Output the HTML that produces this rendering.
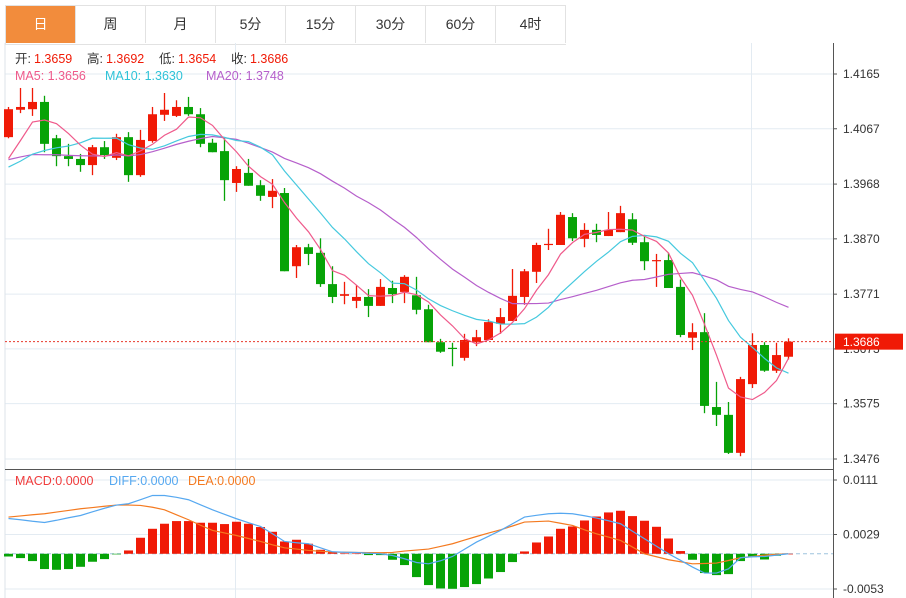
<!DOCTYPE html>
<html><head><meta charset="utf-8">
<style>
body{margin:0;background:#fff;font-family:"Liberation Sans","Noto Sans CJK SC",sans-serif;}
#wrap{position:relative;width:906px;height:598px;overflow:hidden;background:#fff}
.tabs{position:absolute;left:5px;top:5px;height:38px;display:flex;border:1px solid #e2e2e2;border-right:none}
.tab{width:69px;height:37px;line-height:37px;text-align:center;font-size:14px;color:#333;border-right:1px solid #e2e2e2;background:#fff}
.tab.on{background:#f28c3c;color:#fff}
</style></head><body>
<div id="wrap">
<div class="tabs">
<div class="tab on">日</div>
<div class="tab">周</div>
<div class="tab">月</div>
<div class="tab">5分</div>
<div class="tab">15分</div>
<div class="tab">30分</div>
<div class="tab">60分</div>
<div class="tab">4时</div>
</div>
<svg id="chart" width="906" height="598" style="position:absolute;left:0;top:0"></svg>
</div>
<script>
const opens=[1.4052,1.4101,1.4102,1.4115,1.4050,1.4018,1.4013,1.4002,1.4034,1.4015,1.4052,1.3984,1.4045,1.4092,1.4090,1.4106,1.4093,1.4042,1.4027,1.3970,1.3988,1.3966,1.3945,1.3952,1.3821,1.3855,1.3845,1.3789,1.3768,1.3759,1.3766,1.3750,1.3782,1.3775,1.3769,1.3744,1.3685,1.3675,1.3657,1.3685,1.3689,1.3718,1.3723,1.3766,1.3811,1.3859,1.3859,1.3909,1.3870,1.3886,1.3875,1.3882,1.3905,1.3864,1.3830,1.3832,1.3784,1.3693,1.3703,1.3569,1.3555,1.3487,1.3610,1.3680,1.3634,1.3659];
const highs=[1.4106,1.4140,1.4140,1.4126,1.4056,1.4040,1.4022,1.4038,1.4045,1.4058,1.4061,1.4065,1.4106,1.4131,1.4118,1.4124,1.4104,1.4049,1.4050,1.4000,1.4013,1.3975,1.3977,1.3961,1.3859,1.3861,1.3871,1.3821,1.3793,1.3787,1.3780,1.3798,1.3795,1.3805,1.3802,1.3752,1.3691,1.3684,1.3700,1.3707,1.3726,1.3746,1.3816,1.3816,1.3863,1.3888,1.3918,1.3916,1.3898,1.3897,1.3918,1.3929,1.3916,1.3877,1.3843,1.3845,1.3797,1.3719,1.3737,1.3614,1.3578,1.3623,1.3701,1.3685,1.3684,1.3692];
const lows=[1.4050,1.4095,1.4090,1.4025,1.4000,1.4000,1.3990,1.3984,1.4013,1.4011,1.3972,1.3981,1.4042,1.4081,1.4088,1.4090,1.4034,1.4025,1.3938,1.3954,1.3965,1.3938,1.3925,1.3812,1.3800,1.3823,1.3784,1.3755,1.3753,1.3746,1.3730,1.3750,1.3755,1.3755,1.3735,1.3685,1.3666,1.3642,1.3652,1.3678,1.3689,1.3700,1.3723,1.3752,1.3791,1.3850,1.3859,1.3866,1.3855,1.3864,1.3875,1.3882,1.3859,1.3814,1.3784,1.3782,1.3694,1.3671,1.3558,1.3535,1.3485,1.3481,1.3603,1.3632,1.3630,1.3654];
const closes=[1.4102,1.4106,1.4115,1.4040,1.4018,1.4013,1.4002,1.4034,1.4020,1.4052,1.3984,1.4047,1.4093,1.4101,1.4106,1.4093,1.4040,1.4025,1.3975,1.3995,1.3965,1.3947,1.3956,1.3812,1.3855,1.3843,1.3789,1.3766,1.3771,1.3766,1.3750,1.3784,1.3771,1.3802,1.3743,1.3685,1.3668,1.3673,1.3689,1.3694,1.3721,1.3730,1.3768,1.3812,1.3859,1.3861,1.3913,1.3871,1.3886,1.3877,1.3886,1.3916,1.3863,1.3830,1.3832,1.3782,1.3698,1.3703,1.3571,1.3555,1.3487,1.3619,1.3680,1.3634,1.3662,1.3686];
const priorCloses=[1.4010,1.4030,1.4045,1.4020,1.4035,1.4015,1.4040,1.4025,1.4010,1.4020,1.4000,1.3990,1.3975,1.3970,1.3981,1.3945,1.3950,1.4022,1.4050];
const macdHist=[-0.00041,-0.00065,-0.00110,-0.00230,-0.00241,-0.00230,-0.00196,-0.00120,-0.00080,-0.00005,0.00050,0.00241,0.00376,0.00452,0.00492,0.00492,0.00467,0.00467,0.00447,0.00482,0.00452,0.00402,0.00331,0.00185,0.00211,0.00151,0.00060,0.00026,0.00005,0.00005,-0.00020,-0.00020,-0.00090,-0.00170,-0.00351,-0.00471,-0.00522,-0.00527,-0.00501,-0.00456,-0.00372,-0.00275,-0.00125,0.00035,0.00170,0.00260,0.00376,0.00411,0.00501,0.00561,0.00622,0.00647,0.00567,0.00497,0.00406,0.00230,0.00041,-0.00090,-0.00290,-0.00321,-0.00306,-0.00110,-0.00050,-0.00086,-0.00030,0];
const diffLine=[0.00531,0.00512,0.00489,0.00471,0.00504,0.00542,0.00576,0.00632,0.00685,0.00733,0.00753,0.00813,0.00877,0.00877,0.00850,0.00813,0.00737,0.00662,0.00594,0.00527,0.00467,0.00411,0.00301,0.00185,0.00166,0.00151,0.00090,0.00030,0.00023,0.00020,0.00008,0,-0.00026,-0.00075,-0.00131,-0.00151,-0.00105,-0.00041,0.00068,0.00176,0.00263,0.00351,0.00452,0.00552,0.00579,0.00602,0.00610,0.00602,0.00572,0.00537,0.00497,0.00452,0.00339,0.00226,0.00113,0,-0.00098,-0.00200,-0.00290,-0.00290,-0.00226,-0.00060,-0.00045,-0.00041,-0.00020,0];
const deaLine=[0.00552,0.00569,0.00587,0.00602,0.00628,0.00652,0.00677,0.00695,0.00715,0.00733,0.00733,0.00727,0.00700,0.00662,0.00587,0.00512,0.00429,0.00351,0.00313,0.00275,0.00230,0.00185,0.00135,0.00090,0.00071,0.00050,0.00038,0.00026,0.00023,0.00020,0.00017,0.00015,0.00020,0.00041,0.00056,0.00071,0.00110,0.00151,0.00206,0.00260,0.00312,0.00361,0.00418,0.00477,0.00485,0.00492,0.00459,0.00426,0.00361,0.00301,0.00251,0.00200,0.00101,0,-0.00045,-0.00090,-0.00120,-0.00151,-0.00146,-0.00140,-0.00101,-0.00060,-0.00041,-0.00020,-0.00009,0];
const priceTicks=[1.4165,1.4067,1.3968,1.3870,1.3771,1.3673,1.3575,1.3476];
const macdTicks=[0.0111,0.0029,-0.0053];
const lastPrice=1.3686;

const svg=document.getElementById('chart');
const NS='http://www.w3.org/2000/svg';
const UP='#f01a06',DN='#07a307';
function el(tag,attrs,parent){const e=document.createElementNS(NS,tag);for(const k in attrs)e.setAttribute(k,attrs[k]);(parent||svg).appendChild(e);return e;}
const PL=5,PR=833;
function xAt(i){return 2.5+(i+0.5)*12;}
function yP(v){return 74+(1.4165-v)*385/0.0689;}
function yM(v){return 480+(0.0111-v)*109/0.0164;}

// grid
const grid=el('g',{});


priceTicks.forEach(t=>{el('line',{x1:PL,x2:PR,y1:yP(t),y2:yP(t),stroke:'#e3ebf2','stroke-width':1},grid);});
macdTicks.forEach(t=>{el('line',{x1:PL,x2:PR,y1:yM(t),y2:yM(t),stroke:'#e3ebf2','stroke-width':1},grid);});
[235.5,751.5].forEach(x=>el('line',{x1:x,x2:x,y1:43,y2:598,stroke:'#e3ebf2'},grid));
el('line',{x1:PL,x2:PL,y1:43,y2:598,stroke:'#dde3ea'},grid);
el('line',{x1:PR+.5,x2:PR+.5,y1:43,y2:598,stroke:'#555'},grid);
el('line',{x1:PL,x2:PR,y1:469.5,y2:469.5,stroke:'#555'},grid);

// price axis labels
priceTicks.forEach(t=>{
 el('line',{x1:PR,x2:PR+4,y1:yP(t),y2:yP(t),stroke:'#555'});
 const tx=el('text',{x:843,y:yP(t)+4,'font-size':12,fill:'#333'});tx.textContent=t.toFixed(4);
 
 
});
macdTicks.forEach(t=>{
 el('line',{x1:PR,x2:PR+4,y1:yM(t),y2:yM(t),stroke:'#555'});
 const tx=el('text',{x:843,y:yM(t)+4,'font-size':12,fill:'#333'});tx.textContent=t.toFixed(4);
 
 
});

// candles
const cg=el('g',{});


for(let i=0;i<closes.length;i++){
 const up=closes[i]>=opens[i],c=up?UP:DN,x=xAt(i);
 const g=el('g',{},cg);
 
 
 el('line',{x1:x,x2:x,y1:yP(highs[i]),y2:yP(lows[i]),stroke:c,'stroke-width':1.3},g);
 const t=yP(Math.max(opens[i],closes[i])),b=yP(Math.min(opens[i],closes[i]));
 el('rect',{x:x-4.5,y:t,width:9,height:Math.max(1.2,b-t),fill:c},g);
}
// moving averages
const all=priorCloses.concat(closes);
function ma(n){const r=[];for(let i=0;i<closes.length;i++){const k=i+priorCloses.length;let s=0;for(let j=k-n+1;j<=k;j++)s+=all[j];r.push(s/n);}return r;}
function line(vals,yf,color,name){
 const p=el('polyline',{points:vals.map((v,i)=>xAt(i)+','+yf(v)).join(' '),fill:'none',stroke:color,'stroke-width':1.2});
 
 
}
line(ma(20),yP,'#b65fcb','ma20-line');
line(ma(10),yP,'#45c9de','ma10-line');
line(ma(5),yP,'#ef5a8b','ma5-line');

// last price line
el('line',{x1:PL,x2:PR,y1:yP(lastPrice),y2:yP(lastPrice),stroke:'#e8392b','stroke-dasharray':'2,2','stroke-width':1});
const lb=el('rect',{x:835,y:yP(lastPrice)-8,width:68,height:16,fill:'#f01a06'});


const lt=el('text',{x:843,y:yP(lastPrice)+4.5,'font-size':12,fill:'#fff'});lt.textContent=lastPrice.toFixed(4);

// MACD
el('line',{x1:PL,x2:PR,y1:yM(0),y2:yM(0),stroke:'#9ec3de','stroke-dasharray':'4,3'});
const mg=el('g',{});


macdHist.forEach((v,i)=>{
 const y0=yM(0),y1=yM(v);
 const r=el('rect',{x:xAt(i)-4.5,y:Math.min(y0,y1),width:9,height:Math.max(0.6,Math.abs(y1-y0)),fill:v>=0?UP:DN},mg);
 
 
});
line(deaLine,yM,'#f47a20','dea-line');
line(diffLine,yM,'#56a8f0','diff-line');

// legends
function txt(x,y,s,c,name){const t=el('text',{x:x,y:y,'font-size':12.5,fill:c,'font-family':'"Liberation Sans","Noto Sans CJK SC",sans-serif'});t.textContent=s;return t;}
const ohlc=[['开:',opens[65]],['高:',highs[65]],['低:',lows[65]],['收:',closes[65]]];
let lx=15;
ohlc.forEach(([k,v])=>{txt(lx,63,k,'#333','ohlc-key');txt(lx+19,63,v.toFixed(4),'#f01a06','ohlc-value');lx+=72;});
txt(15,80,'MA5: '+ma(5)[65].toFixed(4),'#ef5a8b','ma5-legend');
txt(105,80,'MA10: '+ma(10)[65].toFixed(4),'#2fc3d8','ma10-legend');
txt(206,80,'MA20: '+ma(20)[65].toFixed(4),'#b65fcb','ma20-legend');
txt(15,485,'MACD:0.0000','#f03c3c','macd-legend');
txt(109,485,'DIFF:0.0000','#56a8f0','diff-legend');
txt(188,485,'DEA:0.0000','#f47a20','dea-legend');
</script>
</body></html>
